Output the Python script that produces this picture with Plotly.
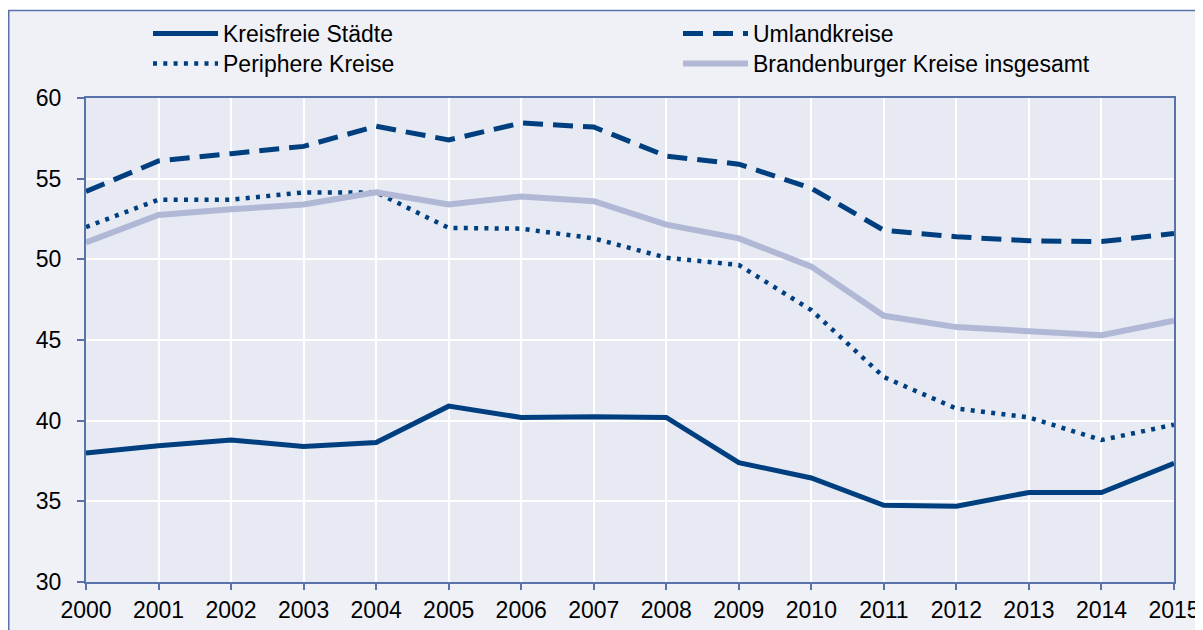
import plotly.graph_objects as go

years = list(range(2000, 2016))
kreisfreie = [38.0, 38.45, 38.8, 38.4, 38.65, 40.9, 40.2, 40.25, 40.2, 37.4, 36.45, 34.75, 34.7, 35.55, 35.55, 37.35]
umland = [54.2, 56.1, 56.55, 57.0, 58.25, 57.4, 58.45, 58.2, 56.4, 55.9, 54.4, 51.8, 51.4, 51.15, 51.1, 51.6]
periphere = [52.0, 53.7, 53.7, 54.15, 54.15, 51.95, 51.9, 51.3, 50.1, 49.65, 46.85, 42.7, 40.75, 40.2, 38.8, 39.75]
brandenburg = [51.05, 52.75, 53.1, 53.4, 54.15, 53.4, 53.9, 53.6, 52.15, 51.3, 49.55, 46.5, 45.8, 45.55, 45.3, 46.2]
y_ticks = [30, 35, 40, 45, 50, 55, 60]

DARK = "#003f7f"
LIGHT = "#b1b8d6"
AXIS = "#5873aa"
FONT = "Liberation Sans, Arial, sans-serif"
FS = 23

fig = go.Figure()
fig.add_trace(go.Scatter(x=years, y=kreisfreie, name="Kreisfreie Städte", mode="lines",
                         line=dict(color=DARK, width=5), legend="legend"))
fig.add_trace(go.Scatter(x=years, y=umland, name="Umlandkreise", mode="lines",
                         line=dict(color=DARK, width=5, dash="20px,10px"), legend="legend"))
fig.add_trace(go.Scatter(x=years, y=periphere, name="Periphere Kreise", mode="lines",
                         line=dict(color=DARK, width=4.5, dash="4px,6.3px"), legend="legend2"))
fig.add_trace(go.Scatter(x=years, y=brandenburg, name="Brandenburger Kreise insgesamt", mode="lines",
                         line=dict(color=LIGHT, width=6), legend="legend2"))

# figure pixel geometry (page is offset by the 8px body margin)
W, H = 1203, 630
L, R, T, B = 78, 37, 90, 56
pw, ph = W - L - R, H - T - B

def px_x(p):
    return (p - L) / pw

def px_y(p):
    return (H - B - p) / ph

shapes = [
    dict(type="rect", xref="paper", yref="paper", x0=px_x(-5), x1=px_x(W + 5), y0=px_y(2), y1=px_y(-5),
         fillcolor="white", line=dict(width=0), layer="below"),
    dict(type="rect", xref="paper", yref="paper", x0=px_x(0.75), x1=px_x(W + 10), y0=px_y(H + 10), y1=px_y(2.5),
         fillcolor="rgba(0,0,0,0)", line=dict(color=AXIS, width=1.5), layer="below"),
]

leg_common = dict(orientation="h", xanchor="left", yanchor="top",
                  entrywidth=450, entrywidthmode="pixels", bgcolor="rgba(0,0,0,0)",
                  font=dict(family=FONT, size=FS, color="#000000"),
                  itemwidth=65, tracegroupgap=0)

fig.update_layout(
    width=W, height=H,
    margin=dict(l=L, r=R, t=T, b=B, autoexpand=False),
    paper_bgcolor="#eff1f7",
    plot_bgcolor="#e7eaf2",
    font=dict(family=FONT, size=FS, color="#000000"),
    shapes=shapes,
    showlegend=True,
    legend=dict(x=px_x(140), y=px_y(4), **leg_common),
    legend2=dict(x=px_x(140), y=px_y(34), **leg_common),
)
fig.update_xaxes(range=[2000, 2015], tickvals=years, ticktext=[str(y) for y in years],
                 showgrid=True, gridcolor="white", gridwidth=2, automargin=False,
                 showline=True, linecolor=AXIS, linewidth=2, mirror=True,
                 ticks="outside", ticklen=6, tickcolor=AXIS, tickwidth=1.5,
                 tickfont=dict(family=FONT, size=FS, color="#000000"), zeroline=False)
fig.update_yaxes(range=[30, 60], tickvals=y_ticks, automargin=False,
                 showgrid=True, gridcolor="white", gridwidth=2,
                 showline=True, linecolor=AXIS, linewidth=2, mirror=True,
                 ticks="outside", ticklen=7, tickcolor=AXIS, tickwidth=1.5, ticklabelstandoff=11,
                 tickfont=dict(family=FONT, size=FS, color="#000000"), zeroline=False)

fig.write_html("out.html")
